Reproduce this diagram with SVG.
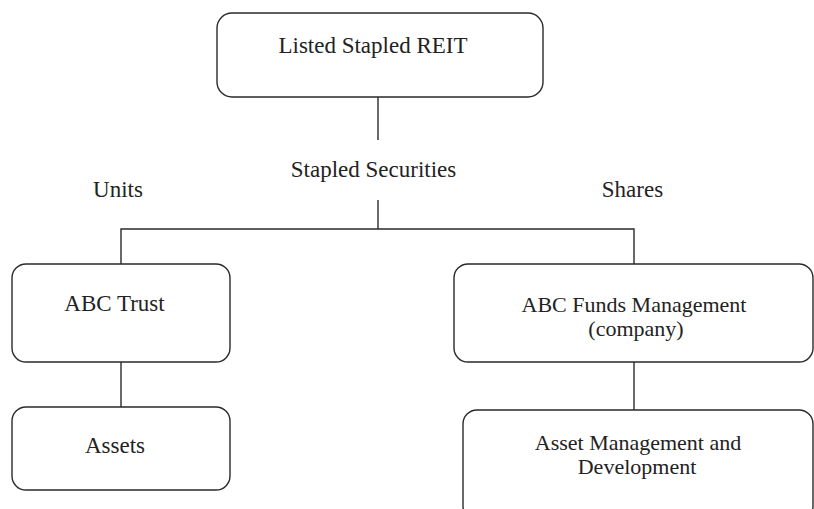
<svg xmlns="http://www.w3.org/2000/svg" width="814" height="509" viewBox="0 0 814 509">
<style>
.box{fill:#fff;stroke:#2a2a2a;stroke-width:1.4}
.ln{stroke:#2a2a2a;stroke-width:1.4;fill:none}
text{font-family:"Liberation Serif","Times New Roman",serif;font-size:23px;fill:#222;text-anchor:middle}
.two{font-size:22px}
</style>
<rect width="814" height="509" fill="#fff"/>
<g id="connectors">
<line class="ln" x1="378" y1="97" x2="378" y2="140"/>
<line class="ln" x1="378" y1="200" x2="378" y2="229"/>
<polyline class="ln" points="121,264 121,229 634,229 634,264"/>
<line class="ln" x1="121" y1="362" x2="121" y2="407"/>
<line class="ln" x1="634" y1="362" x2="634" y2="410"/>
</g>
<g id="labels">
<text x="373.5" y="177">Stapled Securities</text>
<text x="118" y="197">Units</text>
<text x="632.5" y="197">Shares</text>
</g>
<g id="listed-stapled-reit">
<rect class="box" x="217" y="13" width="326" height="84" rx="15"/>
<text x="373" y="53">Listed Stapled REIT</text>
</g>
<g id="abc-trust">
<rect class="box" x="12" y="264" width="218" height="98" rx="14"/>
<text x="114.5" y="311">ABC Trust</text>
</g>
<g id="assets">
<rect class="box" x="12" y="407" width="218" height="83" rx="14"/>
<text x="115" y="453">Assets</text>
</g>
<g id="abc-funds-management">
<rect class="box" x="454" y="264" width="359" height="98" rx="14"/>
<text class="two" x="634" y="312">ABC Funds Management</text>
<text class="two" x="636" y="336">(company)</text>
</g>
<g id="asset-management">
<rect class="box" x="463" y="410" width="350" height="110" rx="14"/>
<text class="two" x="638" y="450">Asset Management and</text>
<text class="two" x="637" y="474">Development</text>
</g>
</svg>
